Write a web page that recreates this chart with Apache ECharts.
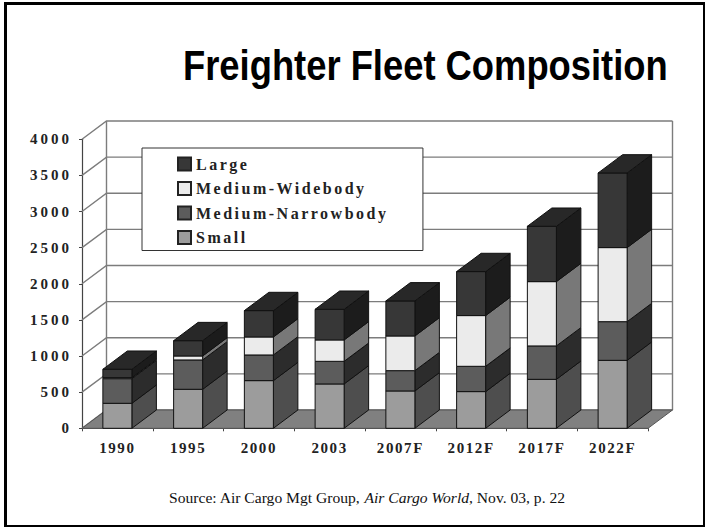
<!DOCTYPE html>
<html><head><meta charset="utf-8">
<style>
html,body{margin:0;padding:0;background:#fff}
#c{width:705px;height:527px}
svg text[style*="TinosX"]{letter-spacing:1.6px}
svg text[style*="TinosY"]{letter-spacing:3px}
svg text[style*="TinosL"]{letter-spacing:2.5px}
</style>
<script src="https://cdn.jsdelivr.net/npm/echarts@6/dist/echarts.min.js"></script>
</head><body><div id="c"></div>
<script>
const categories = ['1990','1995','2000','2003','2007F','2012F','2017F','2022F'];
const small  = [346,540,660,614,517,508,678,941];
const narrow = [341,406,355,313,281,350,462,535];
const wide   = [14,55,249,296,480,702,890,1025];
const large  = [116,212,365,424,485,609,766,1033];
const yTicks = [0,500,1000,1500,2000,2500,3000,3500,4000];
const seriesNames = ['Small','Medium-Narrowbody','Medium-Widebody','Large'];
const seriesValues = [small,narrow,wide,large];
const frontColors = ['#9c9c9c','#5c5c5c','#ebebeb','#373737'];
const sideColors  = ['#4e4e4e','#2c2c2c','#787878','#1c1c1c'];
const topColor = '#282828';
const edge = '#111';
const DX = 24.5, DY = 18.3;
const serifStack = name => name + ", 'Liberation Serif', serif";

function poly(pts, fill, stroke, lw){
  return {type:'polygon', shape:{points:pts}, style:{fill, stroke, lineWidth:lw}};
}
function wallItem(params, api){
  const y = api.coord([0, api.value(0)])[1];
  const l = params.coordSys.x;
  const r = l + params.coordSys.width;
  return {type:'polyline', shape:{points:[[l,y],[l+DX,y-DY],[r+DX,y-DY]]}, style:{stroke:'#7c7c7c', lineWidth:1.4, fill:null}};
}
function floorItem(params, api){
  const cs = params.coordSys;
  const y = cs.y + cs.height, l = cs.x, r = cs.x + cs.width;
  const top = cs.y;
  return {type:'group', children:[
    {type:'line', shape:{x1:l+DX,y1:top-DY,x2:l+DX,y2:y-DY}, style:{stroke:'#7c7c7c',lineWidth:1.4}},
    {type:'line', shape:{x1:r+DX,y1:top-DY,x2:r+DX,y2:y-DY}, style:{stroke:'#7c7c7c',lineWidth:1.4}},
    poly([[l,y],[r,y],[r+DX,y-DY],[l+DX,y-DY]], '#808080', '#555', 1)
  ]};
}
function barItem(si){
  return function(params, api){
    const i = api.value(0), b = api.value(1), t = api.value(2);
    const w = api.size([1,0])[0]*0.41;
    const p0 = api.coord([i,b]), p1 = api.coord([i,t]);
    const l = p0[0]-w/2, r = p0[0]+w/2, y0 = p0[1], y1 = p1[1];
    const kids = [
      poly([[r,y0],[r+DX,y0-DY],[r+DX,y1-DY],[r,y1]], sideColors[si], edge, 1),
      poly([[l,y0],[r,y0],[r,y1],[l,y1]], frontColors[si], edge, 1)
    ];
    if(si === seriesValues.length-1){
      kids.push(poly([[l,y1],[r,y1],[r+DX,y1-DY],[l+DX,y1-DY]], topColor, edge, 1));
    }
    return {type:'group', children:kids};
  };
}
const running = categories.map(()=>0);
const barSeries = seriesNames.map((name,si)=>{
  const data = categories.map((c,i)=>{
    const base = running[i];
    running[i] += seriesValues[si][i];
    return [i, base, running[i]];
  });
  return {type:'custom', name, data, renderItem:barItem(si), clip:false, z:5,
    itemStyle:{color:frontColors[si], borderColor:'#222', borderWidth:1},
    encode:{x:0,y:[1,2]}};
});
const chart = echarts.init(document.getElementById('c'), null, {renderer:'svg'});
chart.setOption({
  animation:false,
  backgroundColor:'#fff',
  graphic:[
    {type:'rect', shape:{x:5.5,y:3.5,width:699,height:523}, style:{fill:'none',stroke:'#000',lineWidth:3}, z:100},
    {type:'text', x:183, y:65, scaleX:0.866, z:100,
     style:{text:'Freighter Fleet Composition', fill:'#000', verticalAlign:'middle', align:'left',
       font:"bold 42px 'Liberation Sans',sans-serif"}}
  ],
  title:[
    {text:'Source: Air Cargo Mgt Group, {i|Air Cargo World}, Nov. 03, p. 22', left:169, top:489, padding:0,
     textStyle:{fontFamily:"'Liberation Serif',serif", fontWeight:'normal', fontSize:15.6, color:'#111',
       rich:{i:{fontFamily:"'Liberation Serif',serif", fontStyle:'italic', fontSize:15.6, color:'#111'}}}}
  ],
  legend:{
    show:true, left:142, top:148, orient:'vertical',
    data:seriesNames.slice().reverse(),
    backgroundColor:'#fff', borderColor:'#333', borderWidth:1,
    padding:[8,77,5,35], itemWidth:13, itemHeight:13, itemGap:8.5, icon:'rect',
    selectedMode:false, z:10,
    textStyle:{fontFamily:serifStack('TinosL'), fontWeight:'bold', fontSize:16, lineHeight:13, color:'#222'}
  },
  grid:{left:82, right:57, top:139.3, bottom:98.7, containLabel:false},
  xAxis:{type:'category', data:categories, boundaryGap:true,
    axisLine:{lineStyle:{color:'#444',width:1.2}}, axisTick:{show:true,length:3,lineStyle:{color:'#444'}},
    axisLabel:{fontFamily:serifStack('TinosX'), fontWeight:'bold', fontSize:15, color:'#222', margin:12, interval:0},
    splitLine:{show:false}},
  yAxis:{type:'value', min:0, max:4000, interval:500,
    axisLine:{show:true, lineStyle:{color:'#444',width:1.2}}, axisTick:{show:true,length:3,lineStyle:{color:'#444'}},
    axisLabel:{fontFamily:serifStack('TinosY'), fontWeight:'bold', fontSize:15, color:'#222', margin:10, formatter:v=>String(v)},
    splitLine:{show:false}},
  series:[
    {type:'custom', name:'walls', data:yTicks.map(v=>[v]), renderItem:wallItem, clip:false, z:1, silent:true, encode:{y:0}},
    {type:'custom', name:'floor', data:[[0]], renderItem:floorItem, clip:false, z:2, silent:true, encode:{y:0}},
    ...barSeries
  ]
});
</script></body></html>
